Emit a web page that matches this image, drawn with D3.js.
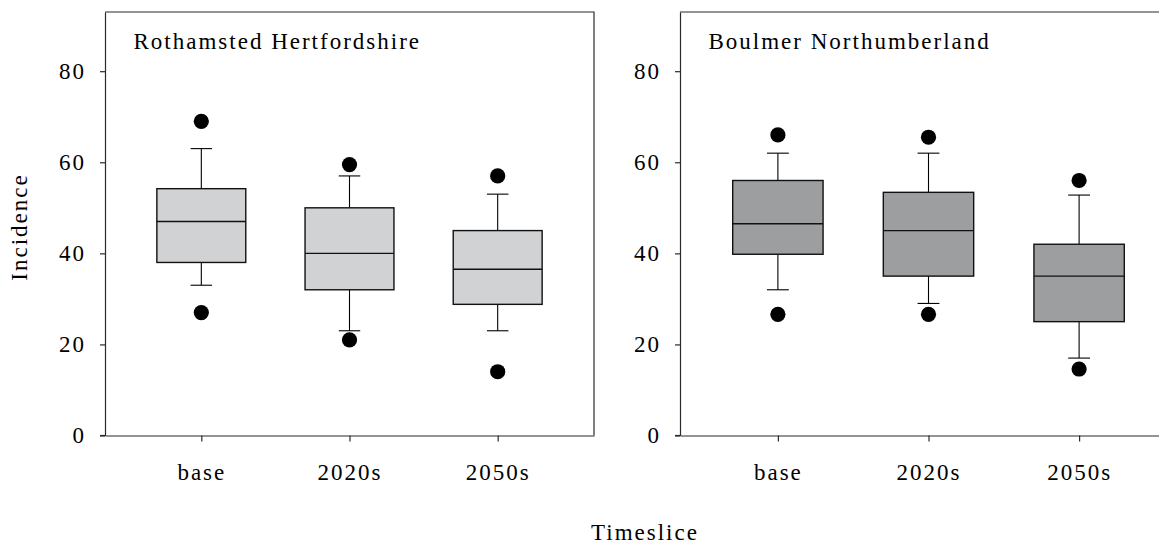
<!DOCTYPE html>
<html>
<head>
<meta charset="utf-8">
<script src="https://cdn.jsdelivr.net/npm/d3@7"></script>
<style>
  body { margin: 0; background: #fff; }
  svg { display: block; }
  text { font-family: "Liberation Serif", "Times New Roman", serif; fill: #000; }
</style>
</head>
<body>
<svg id="chart" width="1159" height="544"></svg>
<script>
// ---- data ----
const categories = ["base", "2020s", "2050s"];
const yTicks = [0, 20, 40, 60, 80];

const panelTitles = ["Rothamsted Hertfordshire", "Boulmer Northumberland"];

// Rothamsted Hertfordshire
const rothWhiskerLow  = [33, 23, 23];
const rothQ1          = [38, 32, 28.8];
const rothMedian      = [47, 40, 36.5];
const rothQ3          = [54.2, 50, 45];
const rothWhiskerHigh = [63, 57, 53];
const rothOutLow      = [27, 21, 14];
const rothOutHigh     = [69, 59.5, 57];

// Boulmer Northumberland
const boulWhiskerLow  = [32, 29, 17];
const boulQ1          = [39.8, 35, 25];
const boulMedian      = [46.5, 45, 35];
const boulQ3          = [56, 53.4, 42];
const boulWhiskerHigh = [62, 62, 52.8];
const boulOutLow      = [26.6, 26.6, 14.6];
const boulOutHigh     = [66, 65.5, 56];

const yLabel = "Incidence";
const xLabel = "Timeslice";

// ---- build ----
function rows(wl, q1, med, q3, wh, ol, oh) {
  return categories.map((c, i) => ({
    cat: c, pos: i + 1, wl: wl[i], q1: q1[i], med: med[i], q3: q3[i], wh: wh[i], ol: ol[i], oh: oh[i]
  }));
}

const panels = [
  { title: panelTitles[0], fill: "#d1d2d4", x0: 105, x1: 594,
    data: rows(rothWhiskerLow, rothQ1, rothMedian, rothQ3, rothWhiskerHigh, rothOutLow, rothOutHigh) },
  { title: panelTitles[1], fill: "#9d9ea0", x0: 680, x1: 1177,
    data: rows(boulWhiskerLow, boulQ1, boulMedian, boulQ3, boulWhiskerHigh, boulOutLow, boulOutHigh) }
];

const svg = d3.select("#chart");
const yTop = 12, yBot = 435.5;
const y = d3.scaleLinear().domain([0, 93]).range([yBot, yTop]);

const fontSize = 23, ls = 2;

panels.forEach(p => {
  const x = d3.scaleLinear().domain([0.35, 3.65]).range([p.x0, p.x1]);
  const unit = x(2) - x(1);
  const boxW = unit * 0.6;
  const capW = unit * 0.145;
  const g = svg.append("g");

  // frame (top & right)
  g.append("path")
    .attr("d", `M${p.x0},${yTop}H${p.x1}V${yBot}`)
    .attr("fill", "none").attr("stroke", "#2a2a2a").attr("stroke-width", 1.2);

  // y axis
  const ya = g.append("g").attr("transform", `translate(${p.x0},0)`)
    .call(d3.axisLeft(y).tickValues(yTicks).tickSize(5).tickSizeOuter(0).tickPadding(14));
  // x axis
  const xa = g.append("g").attr("transform", `translate(0,${yBot})`)
    .call(d3.axisBottom(x).tickValues(categories.map((c, i) => i + 1))
      .tickFormat((d, i) => categories[i]).tickSize(6).tickSizeOuter(0).tickPadding(22));
  [ya, xa].forEach(a => {
    a.select(".domain").attr("stroke", "#2a2a2a").attr("stroke-width", 1.2);
    a.selectAll(".tick line").attr("stroke", "#2a2a2a").attr("stroke-width", 1.2);
    a.selectAll(".tick text").attr("font-family", "Liberation Serif, serif")
      .attr("font-size", fontSize).attr("letter-spacing", ls).attr("fill", "#000");
  });
  // extend x axis line to the left by tick length
  g.append("line").attr("x1", p.x0 - 5).attr("x2", p.x0).attr("y1", yBot).attr("y2", yBot)
    .attr("stroke", "#2a2a2a").attr("stroke-width", 1.2);

  // title
  g.append("text").attr("x", p.x0 + 28.5).attr("y", 48.5)
    .attr("font-size", fontSize).attr("letter-spacing", ls).text(p.title);

  const b = g.selectAll(".box").data(p.data).join("g");
  // whiskers
  b.append("line").attr("x1", d => x(d.pos)).attr("x2", d => x(d.pos))
    .attr("y1", d => y(d.q3)).attr("y2", d => y(d.wh)).attr("stroke", "#000").attr("stroke-width", 1.1);
  b.append("line").attr("x1", d => x(d.pos)).attr("x2", d => x(d.pos))
    .attr("y1", d => y(d.q1)).attr("y2", d => y(d.wl)).attr("stroke", "#000").attr("stroke-width", 1.1);
  b.append("line").attr("x1", d => x(d.pos) - capW / 2).attr("x2", d => x(d.pos) + capW / 2)
    .attr("y1", d => y(d.wh)).attr("y2", d => y(d.wh)).attr("stroke", "#000").attr("stroke-width", 1.1);
  b.append("line").attr("x1", d => x(d.pos) - capW / 2).attr("x2", d => x(d.pos) + capW / 2)
    .attr("y1", d => y(d.wl)).attr("y2", d => y(d.wl)).attr("stroke", "#000").attr("stroke-width", 1.1);
  // box
  b.append("rect").attr("x", d => x(d.pos) - boxW / 2).attr("width", boxW)
    .attr("y", d => y(d.q3)).attr("height", d => y(d.q1) - y(d.q3))
    .attr("fill", p.fill).attr("stroke", "#111").attr("stroke-width", 1.4);
  // median
  b.append("line").attr("x1", d => x(d.pos) - boxW / 2).attr("x2", d => x(d.pos) + boxW / 2)
    .attr("y1", d => y(d.med)).attr("y2", d => y(d.med)).attr("stroke", "#111").attr("stroke-width", 1.4);
  // outliers
  b.append("circle").attr("cx", d => x(d.pos)).attr("cy", d => y(d.oh)).attr("r", 7.6).attr("fill", "#000");
  b.append("circle").attr("cx", d => x(d.pos)).attr("cy", d => y(d.ol)).attr("r", 7.6).attr("fill", "#000");
});

// axis titles
svg.append("text").attr("transform", "translate(27,227) rotate(-90)")
  .attr("text-anchor", "middle").attr("font-size", fontSize).attr("letter-spacing", ls).text(yLabel);
svg.append("text").attr("x", 645).attr("y", 540)
  .attr("text-anchor", "middle").attr("font-size", fontSize).attr("letter-spacing", ls).text(xLabel);
</script>
</body>
</html>
